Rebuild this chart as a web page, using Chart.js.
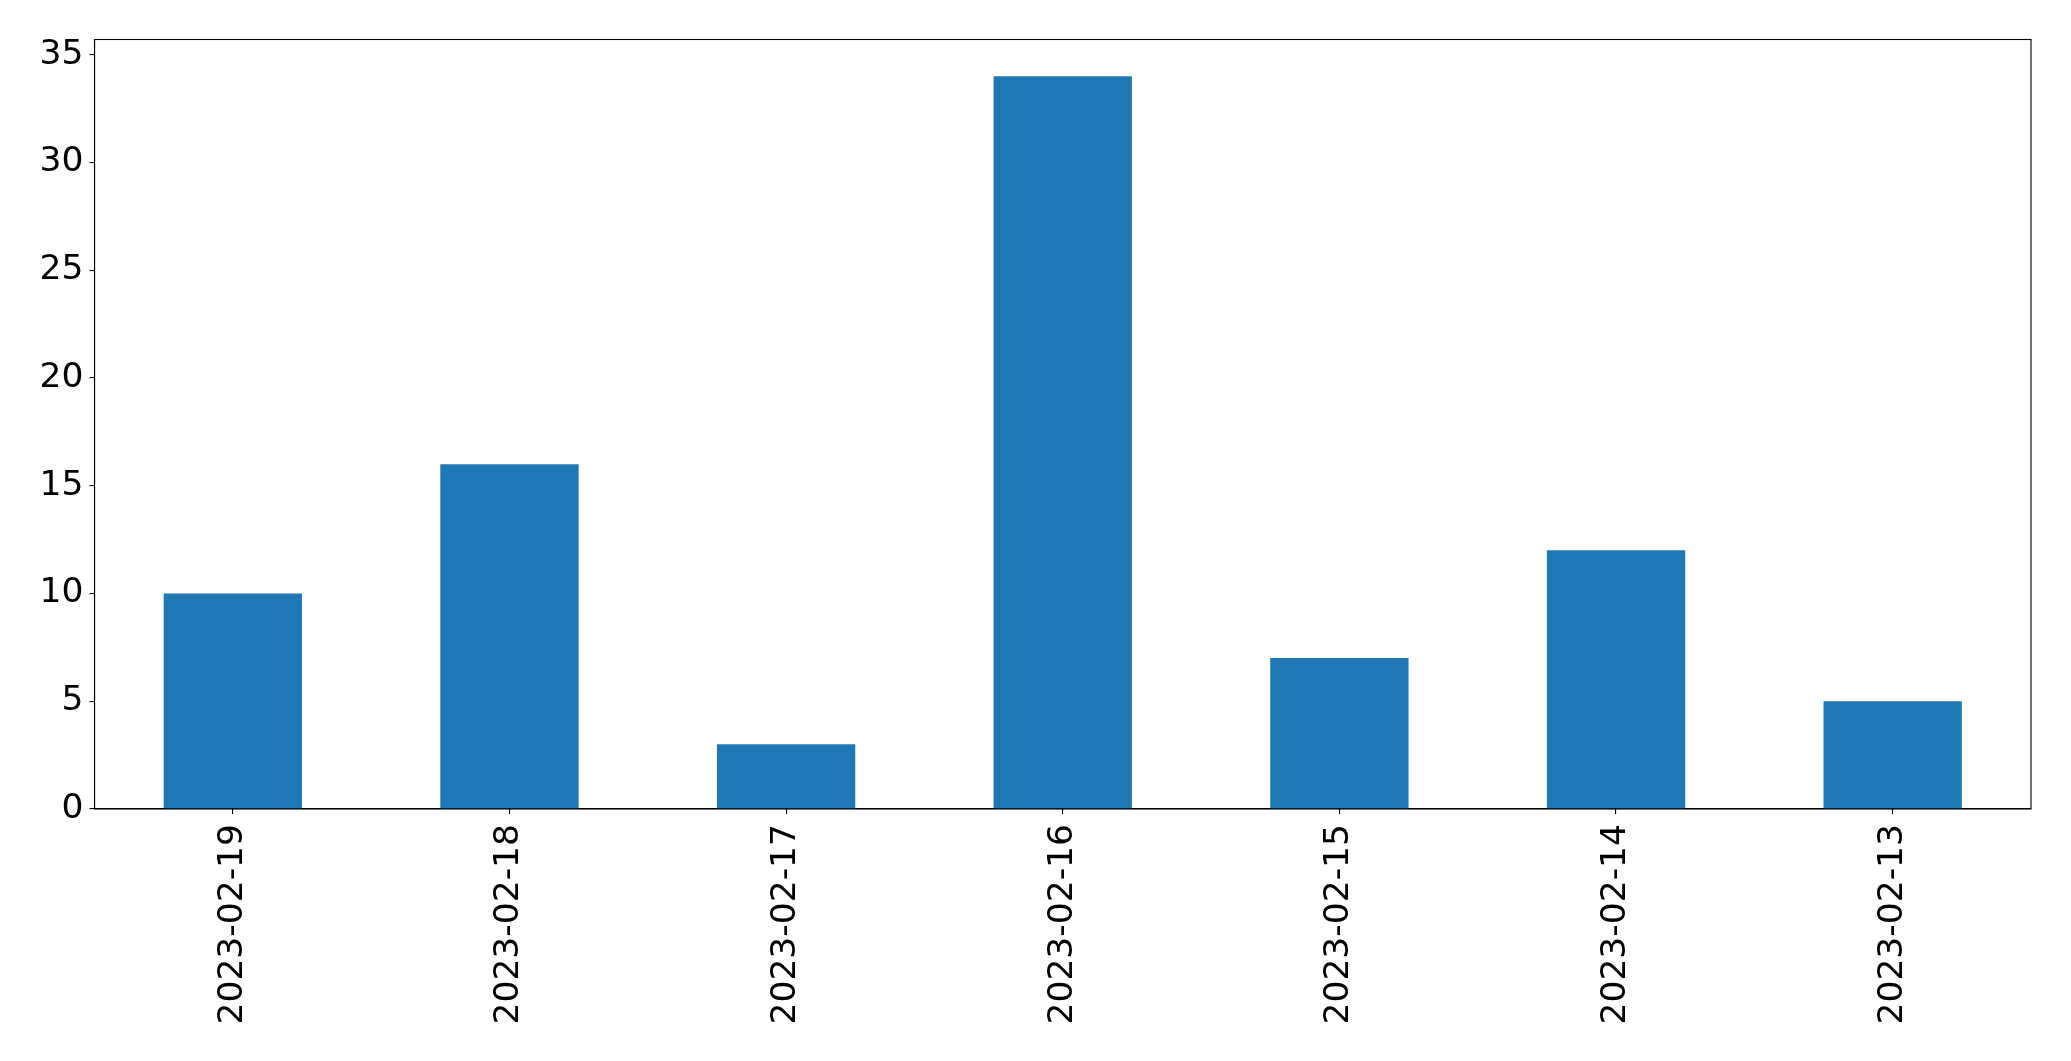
<!DOCTYPE html>
<html>
<head>
<meta charset="utf-8">
<script src="https://cdn.jsdelivr.net/npm/chart.js@4/dist/chart.umd.min.js"></script>
<style>
html,body{margin:0;padding:0;background:#fff;}
#wrap{width:2071px;height:1061px;position:relative;}
</style>
</head>
<body>
<div id="wrap"><canvas id="c" width="2071" height="1061"></canvas></div>
<script>
const categories = ["2023-02-19","2023-02-18","2023-02-17","2023-02-16","2023-02-15","2023-02-14","2023-02-13"];
const values = [10, 16, 3, 34, 7, 12, 5];
const yTicks = [0, 5, 10, 15, 20, 25, 30, 35];
const yMax = 35.7;

const frame = {
  id: 'frame',
  afterDraw(chart) {
    const a = chart.chartArea, ctx = chart.ctx;
    ctx.save();
    ctx.strokeStyle = '#000';
    ctx.lineWidth = 1.1;
    ctx.strokeRect(a.left, a.top, a.right - a.left, a.bottom - a.top);
    ctx.restore();
  }
};

new Chart(document.getElementById('c'), {
  type: 'bar',
  data: {
    labels: categories,
    datasets: [{ data: values, backgroundColor: '#1f77b4', borderWidth: 0,
      categoryPercentage: 1.0, barPercentage: 0.5 }]
  },
  options: {
    responsive: false,
    animation: false,
    devicePixelRatio: 1,
    layout: { padding: { top: 39.5, right: 40, left: 0, bottom: 0 } },
    plugins: { legend: { display: false }, tooltip: { enabled: false } },
    scales: {
      x: {
        grid: { offset: false, drawOnChartArea: false, drawTicks: true, tickLength: 5, color: '#000', lineWidth: 1.1 },
        border: { display: true, color: '#000', width: 1.1 },
        ticks: { color: '#000', font: { family: 'DejaVu Sans', size: 34.5 }, minRotation: 90, maxRotation: 90, padding: 10, autoSkip: false },
        afterFit(s) { s.height = 252; }
      },
      y: {
        min: 0, max: yMax,
        grid: { drawOnChartArea: false, drawTicks: true, tickLength: 5, color: '#000', lineWidth: 1.1 },
        border: { display: true, color: '#000', width: 1.1 },
        ticks: { color: '#000', font: { family: 'DejaVu Sans', size: 34.5 }, padding: 6 },
        afterBuildTicks(s) { s.ticks = yTicks.map(v => ({ value: v })); },
        afterFit(s) { s.width = 94.5; }
      }
    }
  },
  plugins: [frame]
});
</script>
</body>
</html>
